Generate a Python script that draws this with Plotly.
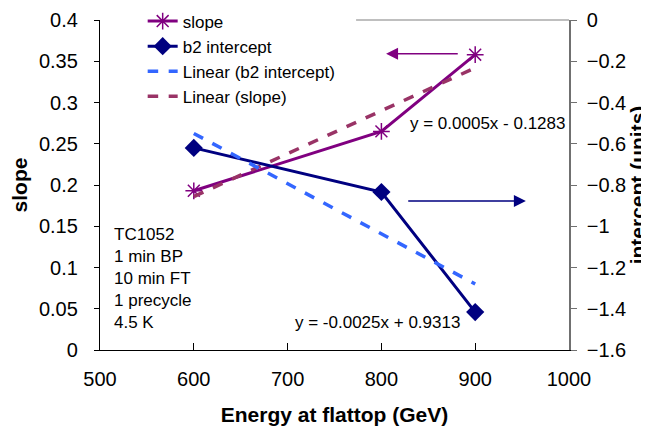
import plotly.graph_objects as go

energy = [600, 800, 900]
slope = [0.193, 0.265, 0.358]
b2_intercept = [-0.62, -0.834, -1.416]

trend_x = [600, 900]
trend_slope = [0.186, 0.342]
trend_b2 = [-0.55, -1.28]

eq_slope = "y = 0.0005x - 0.1283"
eq_b2 = "y = -0.0025x + 0.9313"
info_text = "TC1052<br>1 min BP<br>10 min FT<br>1 precycle<br>4.5 K"

FONT = "Liberation Sans, Arial, sans-serif"

fig = go.Figure()
fig.add_trace(go.Scatter(x=energy, y=slope, name="slope", mode="lines+markers",
                         line=dict(color="#800080", width=3),
                         marker=dict(symbol="asterisk-open", size=14, color="#800080",
                                     line=dict(color="#800080", width=1.5))))
fig.add_trace(go.Scatter(x=energy, y=b2_intercept, name="b2 intercept", mode="lines+markers",
                         yaxis="y2",
                         line=dict(color="#000080", width=3),
                         marker=dict(symbol="diamond", size=14, color="#000080")))
fig.add_trace(go.Scatter(x=trend_x, y=trend_b2, name="Linear (b2 intercept)", mode="lines",
                         yaxis="y2",
                         line=dict(color="#3366FF", width=3.5, dash="dash")))
fig.add_trace(go.Scatter(x=trend_x, y=trend_slope, name="Linear (slope)", mode="lines",
                         line=dict(color="#993366", width=3.5, dash="dash")))

fig.update_layout(
    width=649, height=429,
    margin=dict(l=92, r=87.5, t=12, b=87, autoexpand=False),
    paper_bgcolor="white", plot_bgcolor="white",
    font=dict(family=FONT, size=20, color="black"),
    showlegend=True,
    legend=dict(x=0.091, y=1.05, xanchor="left", yanchor="top",
                bgcolor="rgba(255,255,255,1)", font=dict(size=17),
                tracegroupgap=0),
    xaxis=dict(range=[500, 1000], dtick=100, showgrid=False, zeroline=False,
               showline=True, linecolor="black", linewidth=1.3,
               ticks="inside", ticklen=7, tickcolor="black", automargin=False,
               ticklabelstandoff=11, ticklabeloverflow="allow",
               title=dict(text="<b>Energy at flattop (GeV)</b>", font=dict(size=21), standoff=18)),
    yaxis=dict(range=[0, 0.4], dtick=0.05, showgrid=False, zeroline=False,
               showline=True, linecolor="black", linewidth=1.3,
               ticks="outside", ticklen=5, tickcolor="black", automargin=False,
               ticklabelstandoff=12, ticklabeloverflow="allow",
               title=dict(text="<b>slope</b>", font=dict(size=21), standoff=8)),
    yaxis2=dict(range=[-1.6, 0], dtick=0.2, overlaying="y", side="right",
                showgrid=False, zeroline=False,
                showline=True, linecolor="#707070", linewidth=1.5,
                ticks="outside", ticklen=6, tickcolor="#707070", automargin=False,
                ticklabelstandoff=6, ticklabeloverflow="allow",
                title=dict(text="<b>intercept (units)</b>", font=dict(size=21), standoff=3)),
    yaxis3=dict(range=[-1.6, 0], dtick=0.2, overlaying="y", side="right",
                showgrid=False, zeroline=False, showline=False, showticklabels=False,
                ticks="inside", ticklen=6, tickcolor="#707070", automargin=False),
)

# partial top border (rest hidden behind legend)
fig.add_shape(type="line", xref="x", yref="paper", x0=773, x1=1000, y0=1, y1=1,
              line=dict(color="#808080", width=1.2))

# arrows
fig.add_annotation(x=805, y=0.359, ax=883, ay=0.359, xref="x", yref="y", axref="x", ayref="y",
                   showarrow=True, arrowhead=2, arrowsize=1.6, arrowwidth=1.5,
                   arrowcolor="#800080", text="")
fig.add_annotation(x=954, y=0.1807, ax=827, ay=0.1807, xref="x", yref="y", axref="x", ayref="y",
                   showarrow=True, arrowhead=2, arrowsize=1.6, arrowwidth=1.5,
                   arrowcolor="#000080", text="")

fig.add_annotation(x=828, y=0.274, xref="x", yref="y", text=eq_slope, showarrow=False,
                   xanchor="left", yanchor="middle", font=dict(size=17))
fig.add_annotation(x=706, y=0.033, xref="x", yref="y", text=eq_b2, showarrow=False,
                   xanchor="left", yanchor="middle", font=dict(size=17))
fig.add_annotation(x=0.026, y=0.385, xref="paper", yref="paper", text=info_text, showarrow=False,
                   xanchor="left", yanchor="top", align="left", font=dict(size=17))

fig.write_html("out.html")
